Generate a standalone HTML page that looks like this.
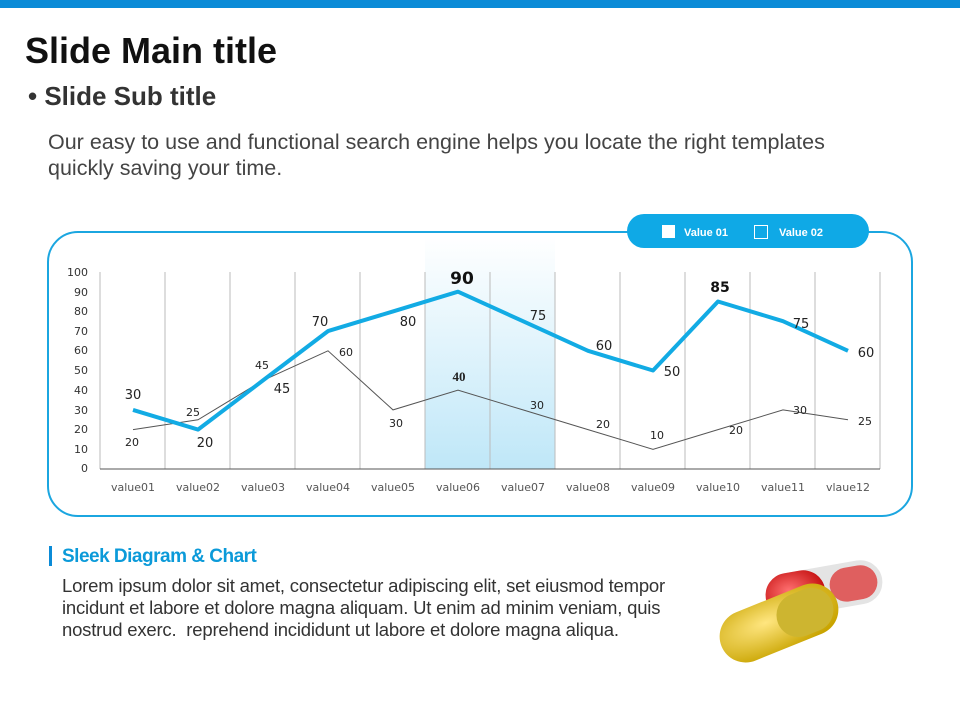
<!DOCTYPE html>
<html><head><meta charset="utf-8"><style>
body{margin:0;width:960px;height:720px;background:#fff;position:relative;overflow:hidden;font-family:"Liberation Sans",sans-serif}
.t{position:absolute;white-space:nowrap}
</style></head><body>
<div style="position:absolute;left:0;top:0;width:960px;height:8px;background:#0b8bd7"></div>
<div class="t" style="left:25px;top:30px;font-size:36px;font-weight:bold;color:#111;letter-spacing:0px">Slide Main title</div>
<div class="t" style="left:28px;top:81px;font-size:26px;font-weight:bold;color:#333">• Slide Sub title</div>
<div class="t" style="left:48px;top:129px;font-size:21.5px;color:#444;line-height:26px">Our easy to use and functional search engine helps you locate the right templates<br>quickly saving your time.</div>
<svg width="960" height="720" style="position:absolute;left:0;top:0">
<defs><linearGradient id="g" x1="0" y1="0" x2="0" y2="1"><stop offset="0" stop-color="#fff"/><stop offset="1" stop-color="#bfe7f8"/></linearGradient>
<radialGradient id="ry" cx=".4" cy=".4" r=".7"><stop offset="0" stop-color="#ffe680"/><stop offset="1" stop-color="#c9a400"/></radialGradient>
<radialGradient id="rr" cx=".4" cy=".4" r=".7"><stop offset="0" stop-color="#ff7070"/><stop offset="1" stop-color="#b00"/></radialGradient></defs>
<rect x="48" y="232" width="864" height="284" rx="30" fill="none" stroke="#1ba6e0" stroke-width="2"/>
<rect x="425" y="236" width="130" height="233" fill="url(#g)"/>
<g stroke="#bbb" stroke-width="1">
<line x1="100" y1="272" x2="100" y2="469"/><line x1="165" y1="272" x2="165" y2="469"/><line x1="230" y1="272" x2="230" y2="469"/><line x1="295" y1="272" x2="295" y2="469"/><line x1="360" y1="272" x2="360" y2="469"/><line x1="425" y1="272" x2="425" y2="469"/><line x1="490" y1="272" x2="490" y2="469"/><line x1="555" y1="272" x2="555" y2="469"/><line x1="620" y1="272" x2="620" y2="469"/><line x1="685" y1="272" x2="685" y2="469"/><line x1="750" y1="272" x2="750" y2="469"/><line x1="815" y1="272" x2="815" y2="469"/><line x1="880" y1="272" x2="880" y2="469"/></g>
<line x1="100" y1="469" x2="880" y2="469" stroke="#555"/>
<g font-size="11" fill="#333" text-anchor="end" font-family="DejaVu Sans,sans-serif">
<text x="88" y="276">100</text><text x="88" y="296">90</text><text x="88" y="315">80</text><text x="88" y="335">70</text><text x="88" y="354">60</text><text x="88" y="374">50</text><text x="88" y="394">40</text><text x="88" y="414">30</text><text x="88" y="433">20</text><text x="88" y="453">10</text><text x="88" y="472">0</text></g>
<g font-size="11" fill="#555" text-anchor="middle" font-family="DejaVu Sans,sans-serif">
<text x="133" y="491">value01</text><text x="198" y="491">value02</text><text x="263" y="491">value03</text><text x="328" y="491">value04</text><text x="393" y="491">value05</text><text x="458" y="491">value06</text><text x="523" y="491">value07</text><text x="588" y="491">value08</text><text x="653" y="491">value09</text><text x="718" y="491">value10</text><text x="783" y="491">value11</text><text x="848" y="491">vlaue12</text></g>
<polyline fill="none" stroke="#555" stroke-width="1" points="133,429.6 198,419.8 263,380.4 328,350.8 393,409.9 458,390.2 523,409.9 588,429.6 653,449.3 718,429.6 783,409.9 848,419.8"/>
<polyline fill="none" stroke="#12abe4" stroke-width="4" stroke-linejoin="round" points="133,409.9 198,429.6 263,380.4 328,331.1 393,311.4 458,291.7 523,321.2 588,350.8 653,370.5 718,301.5 783,321.2 848,350.8"/>
<g font-size="13" fill="#222" text-anchor="middle" font-family="DejaVu Sans,sans-serif">
<text x="133" y="399">30</text><text x="205" y="447">20</text><text x="282" y="393">45</text><text x="320" y="326">70</text><text x="408" y="326">80</text><text x="538" y="320">75</text><text x="604" y="350">60</text><text x="672" y="376">50</text><text x="801" y="328">75</text><text x="866" y="357">60</text>
<text x="462" y="284" font-size="17" font-weight="bold" fill="#111">90</text><text x="720" y="292" font-size="14" font-weight="bold" fill="#111">85</text></g>
<g font-size="11" fill="#222" text-anchor="middle" font-family="DejaVu Sans,sans-serif">
<text x="132" y="446">20</text><text x="193" y="416">25</text><text x="262" y="369">45</text><text x="346" y="356">60</text><text x="396" y="427">30</text><text x="459" y="381" font-weight="bold" font-family="Liberation Serif,serif" font-size="13">40</text><text x="537" y="409">30</text><text x="603" y="428">20</text><text x="657" y="439">10</text><text x="736" y="434">20</text><text x="800" y="414">30</text><text x="865" y="425">25</text></g>
<rect x="627" y="214" width="242" height="34" rx="17" fill="#0fa9e6"/>
<rect x="662" y="225" width="13" height="13" fill="#fff"/>
<rect x="754.5" y="225.5" width="13" height="13" fill="none" stroke="#fff"/>
<g font-size="11" font-weight="bold" fill="#fff"><text x="684" y="236">Value 01</text><text x="779" y="236">Value 02</text></g>
<rect x="49" y="546" width="3" height="20" fill="#0b8bd7"/>
<g transform="rotate(-10 822 589)"><rect x="765" y="567" width="118" height="44" rx="22" fill="#e4e4e4"/><rect x="765" y="567" width="60" height="44" rx="22" fill="url(#rr)"/><rect x="830" y="572" width="48" height="34" rx="17" fill="#d33" opacity=".75"/></g>
<g transform="rotate(-22 779 623)"><rect x="717" y="597" width="124" height="52" rx="26" fill="url(#ry)"/><rect x="778" y="601" width="58" height="44" rx="22" fill="#cdb530"/></g>
</svg>
<div class="t" style="left:62px;top:546px;font-size:19px;font-weight:bold;color:#0b9ad9;letter-spacing:-0.5px">Sleek Diagram &amp; Chart</div>
<div class="t" style="left:62px;top:575px;font-size:18.5px;color:#333;line-height:22px;letter-spacing:-0.2px">Lorem ipsum dolor sit amet, consectetur adipiscing elit, set eiusmod tempor<br>incidunt et labore et dolore magna aliquam. Ut enim ad minim veniam, quis<br>nostrud exerc.&nbsp; reprehend incididunt ut labore et dolore magna aliqua.</div>
</body></html>
